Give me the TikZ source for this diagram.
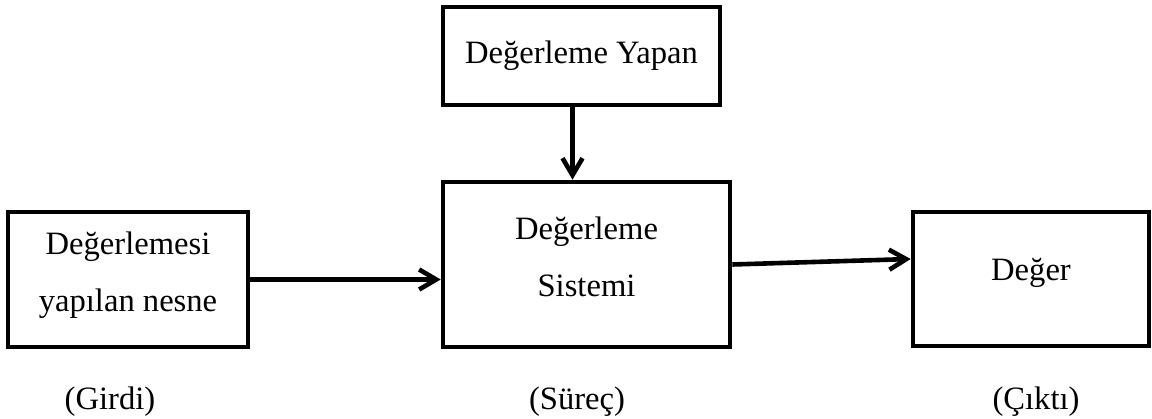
\documentclass[tikz,border=0pt]{standalone}
\usepackage{fontspec}
\setmainfont{Liberation Serif}
\usetikzlibrary{arrows.meta}
\begin{document}
\begin{tikzpicture}[x=.5pt,y=.5pt,>={Straight Barb[length=8.5pt,width=10pt]},
  kutu/.style={draw,line width=2.3pt,align=center,inner sep=0pt,font=\fontsize{16.3}{28.5}\selectfont},
  ok/.style={->,line width=2.3pt},
  etiket/.style={font=\fontsize{16.3}{19}\selectfont}]
\useasboundingbox (0,0) rectangle (1152,418);
\node[kutu,minimum width=138.5pt,minimum height=49pt](yapan) at (581.5,362){Değerleme Yapan};
\node[kutu,minimum width=143.5pt,minimum height=82.5pt,text depth=8pt](sistem) at (586.5,153.5){Değerleme\\Sistemi};
\node[kutu,minimum width=120pt,minimum height=67.5pt,text depth=8pt](nesne) at (128,138.5){Değerlemesi\\yapılan nesne};
\node[kutu,minimum width=118pt,minimum height=67pt,text depth=10pt](deger) at (1031,139){Değer};
\draw[ok]([xshift=-4.5pt]yapan.south)--([xshift=-4.5pt]yapan.south |- sistem.north);
\draw[ok](nesne.east)--(nesne.east -| sistem.west);
\draw[ok](sistem.east)--([yshift=10pt]deger.west);
\node[etiket](girdi) at (110,16){(Girdi)};
\node[etiket](surec) at (577,16){(Süreç)};
\node[etiket](cikti) at (1036,16){(Çıktı)};
\end{tikzpicture}
\end{document}
